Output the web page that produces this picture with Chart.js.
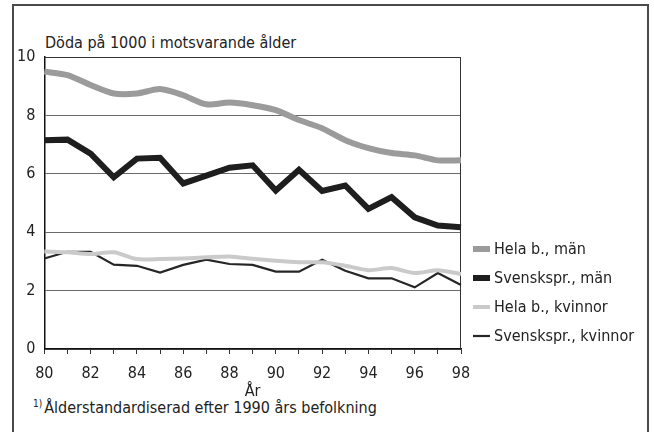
<!DOCTYPE html>
<html>
<head>
<meta charset="utf-8">
<script src="https://cdn.jsdelivr.net/npm/chart.js@4.4.0/dist/chart.umd.min.js"></script>
<style>
  body { margin: 0; background: #fff; }
  #frame { position: absolute; left: 12px; top: 4px; width: 637px; height: 460px; box-sizing: border-box; border: 2px solid #4a4a4a; }
  .txt { position: absolute; font-family: "Liberation Sans Narrow", "DejaVu Sans Condensed", "Arial Narrow", sans-serif; font-size: 16px; line-height: 16px; color: #222; white-space: nowrap; }
  #title { left: 45px; top: 35px; }
  #note { left: 33px; top: 400px; }
  #note span { font-size: 10px; position: relative; top: -6px; margin-right: 2px; }
  #wrap { position: absolute; left: 0; top: 0; width: 654px; height: 432px; }
</style>
</head>
<body>
<div id="frame"></div>
<div id="title" class="txt">Döda på 1000 i motsvarande ålder</div>
<div id="note" class="txt"><span>1)</span>Ålderstandardiserad efter 1990 års befolkning</div>
<div id="wrap"><canvas id="chart"></canvas></div>
<script>
const years = ['80','81','82','83','84','85','86','87','88','89','90','91','92','93','94','95','96','97','98'];
const helaMan = [9.50, 9.38, 9.04, 8.75, 8.75, 8.90, 8.69, 8.38, 8.44, 8.35, 8.18, 7.84, 7.56, 7.15, 6.88, 6.71, 6.63, 6.46, 6.46];
const svMan = [7.15, 7.17, 6.69, 5.88, 6.52, 6.55, 5.67, 5.94, 6.21, 6.29, 5.43, 6.14, 5.41, 5.60, 4.80, 5.20, 4.51, 4.23, 4.17];
const helaKv = [3.34, 3.31, 3.25, 3.31, 3.08, 3.08, 3.10, 3.14, 3.17, 3.09, 3.02, 2.97, 2.97, 2.85, 2.70, 2.77, 2.60, 2.70, 2.57];
const svKv = [3.10, 3.33, 3.33, 2.89, 2.85, 2.62, 2.88, 3.06, 2.91, 2.88, 2.65, 2.65, 3.06, 2.68, 2.42, 2.42, 2.11, 2.60, 2.19];
const yTicks = [0, 2, 4, 6, 8, 10];

const fontFam = '"Liberation Sans Narrow", "DejaVu Sans Condensed", "Arial Narrow", sans-serif';
const ink = '#222';

// box round the plot (top and right sides)
const plotBox = {
    id: 'plotBox',
    beforeDatasetsDraw(chart) {
        const a = chart.chartArea;
        const ctx = chart.ctx;
        ctx.save();
        ctx.strokeStyle = '#333';
        ctx.lineWidth = 1;
        ctx.beginPath();
        ctx.moveTo(a.left, a.top + 0.5);
        ctx.lineTo(a.right - 0.5, a.top + 0.5);
        ctx.lineTo(a.right - 0.5, a.bottom);
        ctx.stroke();
        ctx.restore();
    }
};

// legend to the right of the plot, stacked from the bottom of the plot
// (the built-in one gets squeezed to a quarter of the width)
const sideLegend = {
    id: 'sideLegend',
    afterDraw(chart) {
        const a = chart.chartArea;
        const ctx = chart.ctx;
        const sets = chart.data.datasets;
        ctx.save();
        ctx.font = '16px ' + fontFam;
        ctx.textBaseline = 'middle';
        ctx.fillStyle = ink;
        sets.forEach((ds, i) => {
            const y = a.bottom - 13 - (sets.length - 1 - i) * 29;
            ctx.strokeStyle = ds.borderColor;
            ctx.lineWidth = ds.borderWidth;
            ctx.beginPath();
            ctx.moveTo(a.right + 12, y);
            ctx.lineTo(a.right + 29, y);
            ctx.stroke();
            ctx.fillText(ds.label, a.right + 33, y + 1);
        });
        ctx.restore();
    }
};

new Chart(document.getElementById('chart'), {
    type: 'line',
    data: {
        labels: years,
        datasets: [
            { label: 'Hela b., män', data: helaMan, borderColor: '#9b9b9b', borderWidth: 6, tension: 0.25 },
            { label: 'Svenskspr., män', data: svMan, borderColor: '#1e1e1e', borderWidth: 6, tension: 0 },
            { label: 'Hela b., kvinnor', data: helaKv, borderColor: '#cacaca', borderWidth: 4, tension: 0.25 },
            { label: 'Svenskspr., kvinnor', data: svKv, borderColor: '#262626', borderWidth: 2.2, tension: 0 }
        ]
    },
    options: {
        responsive: true,
        maintainAspectRatio: false,
        animation: false,
        elements: { point: { radius: 0 } },
        layout: { padding: { left: 8, right: 193, top: 57, bottom: 32 } },
        plugins: {
            legend: { display: false },
            tooltip: { enabled: false }
        },
        scales: {
            x: {
                grid: { drawOnChartArea: false, drawTicks: true, tickLength: 5, color: '#333' },
                border: { color: '#111', width: 1.5 },
                ticks: {
                    autoSkip: false, maxRotation: 0, padding: 12, color: ink,
                    font: { family: fontFam, size: 16, lineHeight: 1 },
                    callback: (v, i) => (i % 2 === 0 ? years[i] : '')
                },
                title: { display: true, text: 'År', color: ink, padding: { top: -10, bottom: 0 }, font: { family: fontFam, size: 16, lineHeight: 1 } }
            },
            y: {
                min: 0, max: 10,
                afterBuildTicks: s => { s.ticks = yTicks.map(v => ({ value: v })); },
                grid: { color: '#6a6a6a', lineWidth: 1, drawTicks: false },
                border: { color: '#111', width: 1.5 },
                ticks: { padding: 9, color: ink, font: { family: fontFam, size: 16, lineHeight: 1 } }
            }
        }
    },
    plugins: [plotBox, sideLegend]
});
</script>
</body>
</html>
